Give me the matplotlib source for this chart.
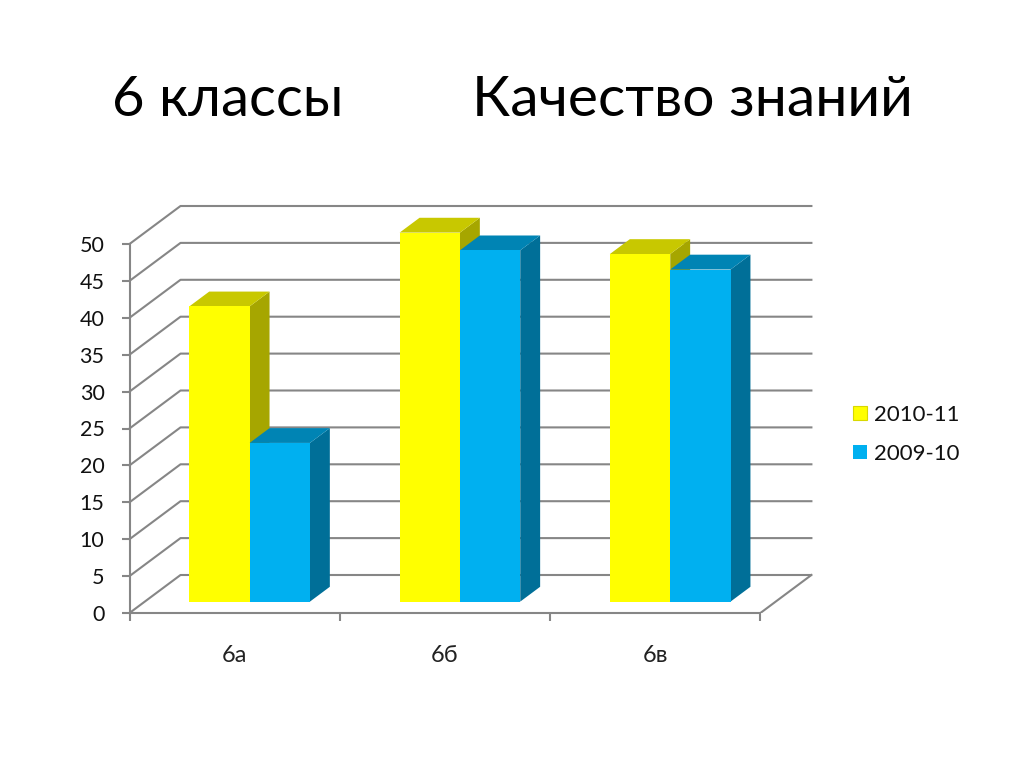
import matplotlib
matplotlib.use("Agg")
import matplotlib.pyplot as plt
from matplotlib.patches import Polygon, Patch

plt.rcParams['font.family'] = ['Lato', 'Noto Sans', 'DejaVu Sans']

categories = ["6а", "6б", "6в"]
series_names = ["2010-11", "2009-10"]
values_2010 = [40, 50, 47.1]
values_2009 = [21.5, 47.6, 45]
y_ticks = [0, 5, 10, 15, 20, 25, 30, 35, 40, 45, 50]

W, H = 1024, 768
GRID = "#868686"
YELLOW = ("#ffff00", "#c8c800", "#a6a600")
BLUE = ("#00b0f0", "#0084b4", "#006f98")

# depth of the fake 3d box, in data units
depth_x = 51 / 210.3
depth_y = 38 / 7.38
# where the bars sit inside the depth
bar_front = 0.3
bar_depth = 0.39
bar_w = 60.3 / 210.3

fig = plt.figure(figsize=(W / 100, H / 100), dpi=100)
ax = fig.add_axes([129.5 / W, 1 - 613 / H, 682 / W, 407 / H])
ax.set_xlim(0, 682 / 210.3)
ax.set_ylim(0, 407 / 7.38)
ax.patch.set_visible(False)


def draw_bar(x, val, colors, z):
    # x is the left of the front face at depth 0
    x0 = x + depth_x * bar_front
    y0 = depth_y * bar_front
    x1 = x0 + bar_w
    y1 = val + y0
    dx = depth_x * bar_depth
    dy = depth_y * bar_depth
    ax.add_patch(Polygon([(x1, y0), (x1 + dx, y0 + dy), (x1 + dx, y1 + dy), (x1, y1)],
                         fc=colors[2], ec="none", zorder=z))
    ax.add_patch(Polygon([(x0, y1), (x0 + dx, y1 + dy), (x1 + dx, y1 + dy), (x1, y1)],
                         fc=colors[1], ec="none", zorder=z))
    ax.add_patch(Polygon([(x0, y0), (x1, y0), (x1, y1), (x0, y1)],
                         fc=colors[0], ec="none", zorder=z))


# walls: gridlines go up the side wall and along the back wall
for v in y_ticks:
    ax.plot([0, depth_x, 3 + depth_x], [v, v + depth_y, v + depth_y],
            color=GRID, lw=1.5, zorder=1, clip_on=False)
ax.plot([3, 3 + depth_x], [0, depth_y], color=GRID, lw=1.5, zorder=1)

for i in range(len(categories)):
    left = i + 0.5 - bar_w + 15 / 210.3 - depth_x * bar_front
    draw_bar(left, values_2010[i], YELLOW, 3)
    draw_bar(left + bar_w, values_2009[i], BLUE, 4)

for s in ["top", "right"]:
    ax.spines[s].set_visible(False)
ax.spines["left"].set_bounds(0, 50)
ax.spines["bottom"].set_bounds(0, 3)
for s in ["left", "bottom"]:
    ax.spines[s].set_color(GRID)
    ax.spines[s].set_linewidth(1.5)

ax.set_yticks(y_ticks)
ax.set_xticks([0, 1, 2, 3])
ax.set_xticklabels([])
ax.set_xticks([0.5, 1.5, 2.5], minor=True)
ax.set_xticklabels(categories, minor=True)
ax.tick_params(axis="y", length=5.5, width=1.5, color=GRID, labelsize=15.5, pad=12.5, labelcolor="#111111")
ax.tick_params(axis="x", which="major", length=5.5, width=1.5, color=GRID)
ax.tick_params(axis="x", which="minor", length=0, labelsize=17, pad=23, labelcolor="#222222")

handles = [Patch(fc=YELLOW[0], ec="#d8d800", lw=0.8), Patch(fc=BLUE[0], ec="none")]
fig.legend(handles, series_names, loc="upper left", bbox_to_anchor=(845 / W, 1 - 397 / H),
           frameon=False, fontsize=16, handlelength=0.63, handleheight=0.63,
           handletextpad=0.32, labelspacing=0.85, labelcolor="#111111",
           borderpad=0.35, borderaxespad=0)

fig.text(112 / W, 1 - 101 / H, "6 классы", fontsize=40.5, va="center", ha="left", color="#000000")
fig.text(472 / W, 1 - 101 / H, "Качество знаний", fontsize=41, va="center", ha="left", color="#000000")

fig.savefig("out.png", dpi=100)
